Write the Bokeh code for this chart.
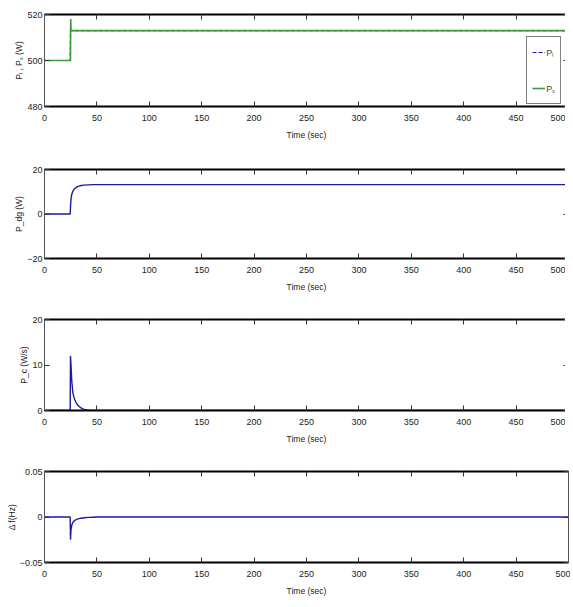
from bokeh.plotting import figure
from bokeh.layouts import column
from bokeh.models import LinearAxis, FixedTicker, Range1d, Legend, LegendItem
from bokeh.embed import file_html
from bokeh.resources import INLINE

# ---- data ----
t_pow = [0, 24.5, 24.8, 25.0, 25.3, 26, 500]
p_load = [500, 500, 513, 513, 513, 513, 513]
p_s = [500, 500, 500, 518, 513, 513, 513]

t_dg = [0, 24.5, 25, 25.5, 26, 27, 28, 30, 32, 35, 38, 42, 46, 50, 500]
p_dg = [0, 0, 5, 7.5, 8.8, 10.2, 11.0, 11.9, 12.4, 12.8, 13.0, 13.1, 13.2, 13.2, 13.2]

t_c = [0, 24.5, 24.8, 25.5, 26, 27, 28, 29, 30, 32, 34, 36, 38, 40, 45, 50, 500]
p_c = [0, 0, 12, 9, 6.5, 4.0, 3.0, 2.3, 1.8, 1.1, 0.7, 0.4, 0.25, 0.12, 0.03, 0, 0]

t_f = [0, 24.5, 24.8, 25.3, 26, 27, 28, 30, 32, 35, 38, 42, 46, 50, 500]
d_f = [0, 0, -0.025, -0.014, -0.009, -0.006, -0.0045, -0.003, -0.002, -0.0013, -0.0008, -0.0004, -0.0002, 0, 0]

x_ticks = [0, 50, 100, 150, 200, 250, 300, 350, 400, 450, 500]
y1_ticks = [480, 500, 520]
y2_ticks = [-20, 0, 20]
y3_ticks = [0, 10, 20]
y4_ticks = [-0.05, 0, 0.05]

FONT = "Liberation Sans"
BLUE = "#1a1aa6"
GREEN = "#3a9a3a"


def make_fig(yr, yticks, ylabel, top, bottom, fh):
    p = figure(frame_width=524, frame_height=fh, output_backend="svg",
               toolbar_location=None, x_range=Range1d(0, 500), y_range=Range1d(*yr),
               min_border_left=36, min_border_right=2, min_border_top=top,
               min_border_bottom=bottom, margin=(0, 0, 0, 3))
    p.grid.visible = False
    p.background_fill_color = "white"
    p.outline_line_color = "#333333"
    p.outline_line_width = 1
    p.xaxis.ticker = FixedTicker(ticks=x_ticks)
    p.yaxis.ticker = FixedTicker(ticks=yticks)
    for ax in (p.xaxis[0], p.yaxis[0]):
        ax.major_tick_in = 5
        ax.major_tick_out = 0
        ax.minor_tick_line_color = None
        ax.major_label_text_font = FONT
        ax.major_label_text_font_size = "9px"
        ax.major_label_text_color = "#222222"
        ax.axis_label_text_font = FONT
        ax.axis_label_text_font_size = "8.5px"
        ax.axis_label_text_font_style = "normal"
        ax.axis_label_text_color = "#222222"
        ax.major_tick_line_color = "#333333"
    p.xaxis.axis_line_width = 2
    p.xaxis.axis_line_color = "black"
    p.yaxis.axis_line_color = "#555555"
    p.xaxis.axis_label = "Time (sec)"
    p.xaxis.major_label_standoff = 8
    p.xaxis.axis_label_standoff = 6
    p.yaxis.axis_label = ylabel
    p.yaxis.major_label_standoff = 2
    p.yaxis.axis_label_standoff = 0
    p.yaxis.formatter.use_scientific = False
    top_ax = LinearAxis(ticker=FixedTicker(ticks=x_ticks), major_tick_in=5, major_tick_out=0,
                        minor_tick_line_color=None, major_label_text_color=None,
                        major_label_standoff=0, axis_line_width=2, axis_line_color="black",
                        major_tick_line_color="#333333")
    p.add_layout(top_ax, "above")
    right_ax = LinearAxis(ticker=FixedTicker(ticks=yticks), major_tick_in=5, major_tick_out=0,
                          minor_tick_line_color=None, major_label_text_color=None,
                          major_label_standoff=0, axis_line_color="#555555",
                          major_tick_line_color="#333333")
    p.add_layout(right_ax, "right")
    return p


p1 = make_fig((480, 520), y1_ticks, "P\u2097 , P\u209b (W)", 14, 46, 92)
r_l = p1.line(t_pow, p_load, line_color=BLUE, line_width=1.2, line_dash="4 2")
r_s = p1.line(t_pow, p_s, line_color=GREEN, line_width=1.6)
leg = Legend(items=[LegendItem(label="P\u2097", renderers=[r_l]),
                    LegendItem(label="P\u209b", renderers=[r_s])],
             location="bottom_right", label_text_font=FONT, label_text_font_size="9px",
             glyph_width=13, label_width=4, spacing=16, padding=5, margin=2,
             border_line_color="black", border_line_width=1.5,
             label_standoff=1, background_fill_alpha=1)
p1.add_layout(leg)

p2 = make_fig((-20, 20), y2_ticks, "P_dg (W)", 17, 41, 89)
p2.line(t_dg, p_dg, line_color=BLUE, line_width=1.4)

p3 = make_fig((0, 20), y3_ticks, "P_c (W/s)", 20, 39, 91)
p3.line(t_c, p_c, line_color=BLUE, line_width=1.4)

p4 = make_fig((-0.05, 0.05), y4_ticks, "\u0394 f(Hz)", 22, 37, 91)
p4.line(t_f, d_f, line_color=BLUE, line_width=1.4)

layout = column(p1, p2, p3, p4, spacing=0)
open("out.html", "w").write(file_html(layout, INLINE))
